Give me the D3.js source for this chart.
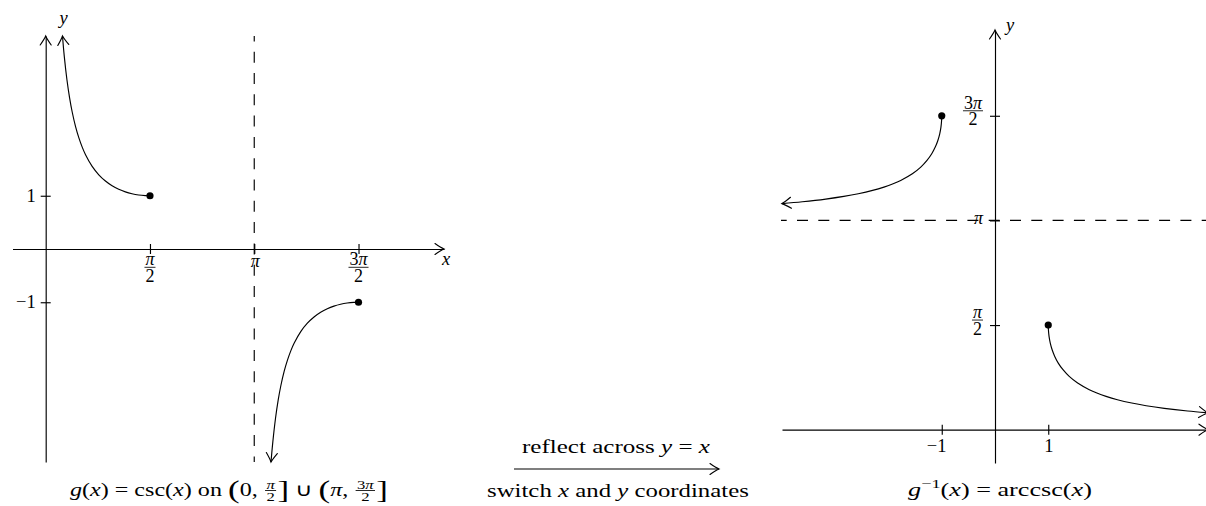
<!DOCTYPE html>
<html><head><meta charset="utf-8">
<script src="https://cdn.jsdelivr.net/npm/d3@7"></script>
<style>html,body{margin:0;padding:0;background:#fff;overflow:hidden} text{white-space:pre}</style>
</head><body>
<svg id="chart" width="1206" height="506"></svg>
<script>
// ---------- data ----------
const upperBranchX = [0.253,0.28,0.32,0.36,0.40,0.45,0.50,0.55,0.60,0.70,0.80,0.90,1.00,1.10,1.20,1.30,1.40,1.50,1.571];
const upperBranchY = [4.000,3.618,3.179,2.839,2.568,2.299,2.086,1.913,1.771,1.552,1.394,1.277,1.188,1.122,1.073,1.038,1.015,1.003,1.000];
const lowerBranchX = [3.394,3.422,3.462,3.502,3.542,3.592,3.642,3.692,3.742,3.842,3.942,4.042,4.142,4.242,4.342,4.442,4.542,4.642,4.712];
const lowerBranchY = [-4.000,-3.618,-3.179,-2.839,-2.568,-2.299,-2.086,-1.913,-1.771,-1.552,-1.394,-1.277,-1.188,-1.122,-1.073,-1.038,-1.015,-1.003,-1.000];

const leftXDomain = [-0.5, 6];
const leftYDomain = [-4, 4];
const rightXDomain = [-4, 4];
const rightYDomain = [-0.5, 6];

const leftXTicks = [Math.PI/2, Math.PI, 3*Math.PI/2];
const leftXTickLabels = ["π/2", "π", "3π/2"];
const leftYTicks = [-1, 1];
const leftYTickLabels = ["−1", "1"];
const rightXTicks = [-1, 1];
const rightXTickLabels = ["−1", "1"];
const rightYTicks = [Math.PI/2, Math.PI, 3*Math.PI/2];
const rightYTickLabels = ["π/2", "π", "3π/2"];
const leftAsymptoteX = Math.PI;
const rightAsymptoteY = Math.PI;

// ---------- setup ----------
const W = 1206, H = 506;
const FONT = "'Liberation Serif','Times New Roman',serif";
const LW = 1.15;
const LS = 18.5;   // label font size
const FS = 18;     // tick fraction font size
const svg = d3.select("#chart").attr("font-family", FONT);
svg.append("rect").attr("width", W).attr("height", H).attr("fill", "#fff");

const xL = d3.scaleLinear().domain(leftXDomain).range([12.5, 444]);
const yL = d3.scaleLinear().domain(leftYDomain).range([462, 36]);
const xR = d3.scaleLinear().domain(rightXDomain).range([782, 1208]);
const yR = d3.scaleLinear().domain(rightYDomain).range([463, 30]);

function labelText(sel, str) {
  str.split(/(π)/).forEach(p => { if (!p) return;
    sel.append("tspan").attr("font-style", p === "π" ? "italic" : "normal").text(p); });
  return sel;
}
function richText(sel, str) {
  str.split("*").forEach((p, i) => { if (!p) return;
    sel.append("tspan").attr("font-style", i % 2 ? "italic" : "normal").text(p); });
  return sel;
}
function arrowHead(parent, x, y, ang) {
  parent.append("path")
    .attr("d", "M-9,-5.5 Q-3,-1.3 0,0 Q-3,1.3 -9,5.5")
    .attr("transform", `translate(${x},${y}) rotate(${ang * 180 / Math.PI})`)
    .attr("fill", "none").attr("stroke", "#000").attr("stroke-width", LW)
    .attr("stroke-linecap", "round");
}
// fraction as one text element (two stacked tspans), centered at 0, bar at y=0
function fraction(parent, num, den, fs, numGap, denGap) {
  const g = parent.append("g");
  const t = g.append("text").attr("font-size", fs).attr("text-anchor", "middle");
  const n = labelText(t.append("tspan").attr("x", 0).attr("y", -numGap), num);
  const d = labelText(t.append("tspan").attr("x", 0).attr("y", denGap), den);
  const w = Math.max(n.node().getComputedTextLength(), d.node().getComputedTextLength()) + 2;
  g.append("line").attr("x1", -w/2).attr("x2", w/2).attr("y1", 0).attr("y2", 0)
    .attr("stroke", "#000").attr("stroke-width", 0.85);
  return {g, w};
}

function styleAxis(g) {
  g.select(".domain").attr("stroke", "#000").attr("stroke-width", LW);
  g.selectAll(".tick line").attr("stroke", "#000").attr("stroke-width", LW);
  g.selectAll(".tick text").remove();
}

// ---------- LEFT: g(x) = csc(x) ----------
const left = svg.append("g");
const gxL = left.append("g").attr("transform", `translate(0,${yL(0)})`)
  .call(d3.axisBottom(xL).tickValues(leftXTicks).tickSizeOuter(0).tickSizeInner(5));
styleAxis(gxL);
gxL.selectAll(".tick line").attr("y1", -5).attr("y2", 5);
const gyL = left.append("g").attr("transform", `translate(${xL(0)},0)`)
  .call(d3.axisLeft(yL).tickValues(leftYTicks).tickSizeOuter(0).tickSizeInner(5));
styleAxis(gyL);
gyL.selectAll(".tick line").attr("x1", -5).attr("x2", 5);
arrowHead(left, xL(leftXDomain[1]), yL(0), 0);
arrowHead(left, xL(0), yL(leftYDomain[1]), -Math.PI/2);

left.append("line").attr("x1", xL(leftAsymptoteX)).attr("x2", xL(leftAsymptoteX))
  .attr("y1", yL(leftYDomain[1])).attr("y2", yL(leftYDomain[0]))
  .attr("stroke", "#000").attr("stroke-width", LW).attr("stroke-dasharray", "11,10.3").attr("stroke-dashoffset", 5.6);

leftXTicks.forEach((v, i) => {
  const lab = leftXTickLabels[i];
  if (lab.includes("/")) {
    const [n, d] = lab.split("/");
    const f = fraction(left, n, d, FS, 2, 14.5);
    f.g.attr("transform", `translate(${xL(v)},${yL(0) + 18.3})`);
  } else {
    labelText(left.append("text").attr("font-size", FS).attr("text-anchor", "middle")
      .attr("x", xL(v) + 1).attr("y", yL(0) + 17.5), lab);
  }
});
leftYTicks.forEach((v, i) => {
  labelText(left.append("text").attr("font-size", LS).attr("text-anchor", "end")
    .attr("x", xL(0) - 10).attr("y", yL(v) + 6.2), leftYTickLabels[i]);
});
left.append("text").attr("font-size", LS).attr("font-style", "italic").attr("text-anchor", "middle")
  .attr("x", 63.5).attr("y", 23.5).text("y");
left.append("text").attr("font-size", LS).attr("font-style", "italic").attr("text-anchor", "middle")
  .attr("x", 446).attr("y", 265).text("x");

const line = d3.line().curve(d3.curveCatmullRom.alpha(0.5));
function drawBranch(parent, pts) {
  parent.append("path").attr("d", line(pts)).attr("fill", "none")
    .attr("stroke", "#000").attr("stroke-width", LW);
  const p0 = pts[0], p1 = pts[1];
  arrowHead(parent, p0[0], p0[1], Math.atan2(p0[1] - p1[1], p0[0] - p1[0]));
  const pe = pts[pts.length - 1];
  parent.append("circle").attr("cx", pe[0]).attr("cy", pe[1]).attr("r", 3.6).attr("fill", "#000");
}
drawBranch(left, upperBranchX.map((x, i) => [xL(x), yL(upperBranchY[i])]));
drawBranch(left, lowerBranchX.map((x, i) => [xL(x), yL(lowerBranchY[i])]));

// ---------- RIGHT: g^-1(x) = arccsc(x) (switch x and y) ----------
const right = svg.append("g");
const gxR = right.append("g").attr("transform", `translate(0,${yR(0)})`)
  .call(d3.axisBottom(xR).tickValues(rightXTicks).tickSizeOuter(0).tickSizeInner(5));
styleAxis(gxR);
gxR.selectAll(".tick line").attr("y1", -5).attr("y2", 5);
const gyR = right.append("g").attr("transform", `translate(${xR(0)},0)`)
  .call(d3.axisLeft(yR).tickValues(rightYTicks).tickSizeOuter(0).tickSizeInner(5));
styleAxis(gyR);
gyR.selectAll(".tick line").attr("x1", -5).attr("x2", 5);
arrowHead(right, xR(rightXDomain[1]), yR(0), 0);
arrowHead(right, xR(0), yR(rightYDomain[1]), -Math.PI/2);

right.append("line").attr("x1", xR(rightXDomain[0]) - 1).attr("x2", W + 5)
  .attr("y1", yR(rightAsymptoteY)).attr("y2", yR(rightAsymptoteY))
  .attr("stroke", "#000").attr("stroke-width", LW).attr("stroke-dasharray", "11,10.3").attr("stroke-dashoffset", 5.3);

rightXTicks.forEach((v, i) => {
  const lab = rightXTickLabels[i];
  const t = labelText(right.append("text").attr("font-size", LS).attr("y", yR(0) + 22), lab);
  if (lab.startsWith("−")) t.attr("text-anchor", "end").attr("x", xR(v) + 4.8);
  else t.attr("text-anchor", "middle").attr("x", xR(v) + 0.5);
});
rightYTicks.forEach((v, i) => {
  const lab = rightYTickLabels[i];
  if (lab.includes("/")) {
    const [n, d] = lab.split("/");
    const f = fraction(right, n, d, FS, 2, 14.5);
    f.g.attr("transform", `translate(${983 - f.w/2},${yR(v) - 5})`);
  } else {
    labelText(right.append("text").attr("font-size", FS).attr("text-anchor", "end")
      .attr("x", 983).attr("y", yR(v) + 3.8), lab);
  }
});
right.append("text").attr("font-size", LS).attr("font-style", "italic").attr("text-anchor", "middle")
  .attr("x", 1010).attr("y", 31).text("y");
right.append("text").attr("font-size", LS).attr("font-style", "italic").attr("text-anchor", "middle")
  .attr("x", 1213).attr("y", 448).text("x");

drawBranch(right, lowerBranchX.map((x, i) => [xR(lowerBranchY[i]), yR(x)]));
drawBranch(right, upperBranchX.map((x, i) => [xR(upperBranchY[i]), yR(x)]));

// ---------- captions ----------
function mathLine(pieces, cx, baseline, targetW, size) {
  const g = svg.append("g");
  const inner = g.append("g");
  let x = 0;
  pieces.forEach(p => {
    if (p.frac) {
      const f = fraction(inner, p.frac[0], p.frac[1], 12.5, 2, 10.5);
      f.g.attr("transform", `translate(${x + f.w/2 + 1},-5.5)`);
      x += f.w + 2;
    } else {
      const t = richText(inner.append("text").attr("x", x).attr("y", p.dy || 0)
        .attr("font-size", (p.scale || 1) * size), p.t);
      x += t.node().getComputedTextLength();
    }
  });
  const s = targetW / x;
  inner.attr("transform", `scale(${s},1)`);
  g.attr("transform", `translate(${cx - targetW/2},${baseline})`);
}
mathLine([
  {t: "*g*(*x*) = csc(*x*) on "}, {t: "(", scale: 1.45, dy: 2}, {t: "0, "}, {frac: ["π", "2"]},
  {t: "]", scale: 1.45, dy: 2}, {t: " ∪ "}, {t: "(", scale: 1.45, dy: 2}, {t: "*π*, "},
  {frac: ["3π", "2"]}, {t: "]", scale: 1.45, dy: 2}
], 229, 496, 318, 18);

mathLine([{t: "*g*"}, {t: "−1", scale: 0.7, dy: -8.5}, {t: "(*x*) = arccsc(*x*)"}], 1000, 496, 184, 18);

mathLine([{t: "reflect across *y* = *x*"}], 616, 453, 188, 18);
mathLine([{t: "switch *x* and *y* coordinates"}], 618, 496.5, 262, 18);

// middle arrow
svg.append("line").attr("x1", 514).attr("x2", 719).attr("y1", 469).attr("y2", 469)
  .attr("stroke", "#000").attr("stroke-width", LW);
arrowHead(svg, 719, 469, 0);
</script>
</body></html>
